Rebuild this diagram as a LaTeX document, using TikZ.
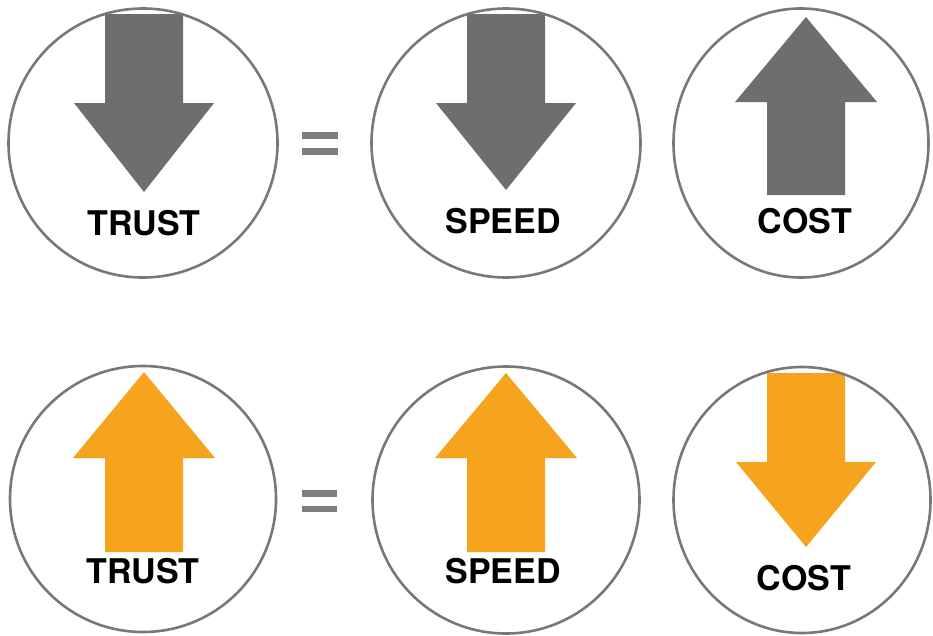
\documentclass[tikz,border=0pt]{standalone}
\usepackage{fontspec}
\setmainfont{TeX Gyre Heros}
\usetikzlibrary{shapes.geometric}
\definecolor{arrgray}{HTML}{6E6E71}
\definecolor{arrorange}{HTML}{F6A31D}
\definecolor{ringgray}{HTML}{787878}
\definecolor{eqgray}{HTML}{7E7E7E}
\tikzset{
  ring/.style={circle, draw=ringgray, line width=2.6pt, minimum size=#1, inner sep=0pt},
  ringe/.style={ellipse, draw=ringgray, line width=2.6pt, inner sep=0pt},
  lbl/.style={font=\fontsize{34}{34}\selectfont\bfseries, anchor=base, inner sep=0pt, text=black},
  eqbar/.style={fill=eqgray, draw=none},
}
% down arrow: center x, shaft top y, head base y, tip y
\newcommand{\downarrowshape}[5]{%
  \fill[#5] (#1-39,#2) -- (#1+39,#2) -- (#1+39,#3) -- (#1+70,#3) -- (#1,#4) -- (#1-70,#3) -- (#1-39,#3) -- cycle;}
% up arrow: center x, shaft bottom y, head base y, tip y
\newcommand{\uparrowshape}[5]{%
  \fill[#5] (#1-39,#2) -- (#1+39,#2) -- (#1+39,#3) -- (#1+71,#3) -- (#1,#4) -- (#1-71,#3) -- (#1-39,#3) -- cycle;}
\begin{document}
\begin{tikzpicture}[x=1pt,y=-1pt]
\useasboundingbox (0,0) rectangle (933,635);
% arrows
\downarrowshape{144}{14}{103}{192}{arrgray}
\downarrowshape{506}{14}{103}{190}{arrgray}
\uparrowshape{806}{195}{102}{17}{arrgray}
\uparrowshape{144}{552}{458}{372}{arrorange}
\uparrowshape{506}{552}{458}{373}{arrorange}
\downarrowshape{806}{373}{462}{547}{arrorange}
% rings
\node[ring=269pt] (c1) at (143,143) {};
\node[ring=269pt] (c2) at (506,143) {};
\node[ringe, minimum width=255pt, minimum height=269pt] (c3) at (801,143) {};
\node[ring=266pt] (c4) at (143,499) {};
\node[ring=267pt] (c5) at (506,500) {};
\node[ringe, minimum width=257pt, minimum height=266pt] (c6) at (802,500) {};
% labels
\node[lbl] (t1) at (144,235) {TRUST};
\node[lbl] (t2) at (503,233) {SPEED};
\node[lbl] (t3) at (805,233) {COST};
\node[lbl] (t4) at (143,583) {TRUST};
\node[lbl] (t5) at (503,583) {SPEED};
\node[lbl] (t6) at (804,590) {COST};
% equals signs
\fill[eqbar] (302,132) rectangle (338,138.5);
\fill[eqbar] (302,148) rectangle (338,154.5);
\fill[eqbar] (302,490) rectangle (337,496.5);
\fill[eqbar] (302,505.5) rectangle (337,512);
\end{tikzpicture}
\end{document}
